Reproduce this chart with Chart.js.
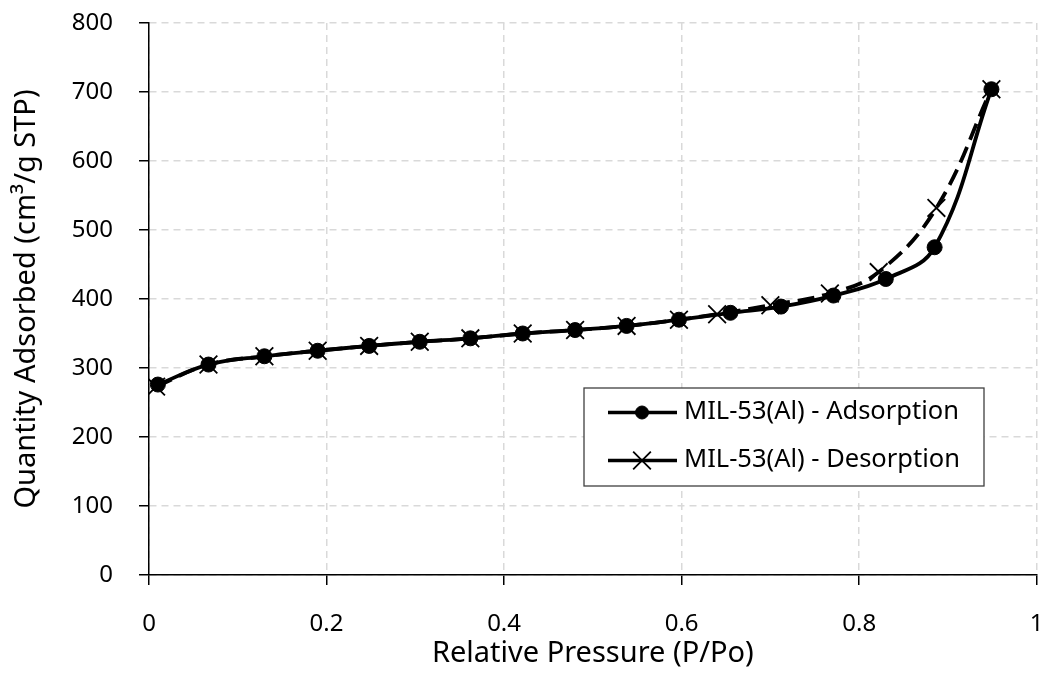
<!DOCTYPE html>
<html>
<head>
<meta charset="utf-8">
<script src="https://cdn.jsdelivr.net/npm/chart.js@4/dist/chart.umd.min.js"></script>
<style>
  html, body { margin: 0; padding: 0; background: #ffffff; }
  #wrap { width: 1051px; height: 674px; position: relative; }
</style>
</head>
<body>
<div id="wrap"><canvas id="isotherm"></canvas></div>
<script>
// N2 isotherm of MIL-53(Al): relative pressure (P/Po) vs quantity adsorbed (cm3/g STP)
const adsorptionPressure = [0.010, 0.067, 0.130, 0.190, 0.248, 0.305, 0.362, 0.421, 0.480, 0.538, 0.597, 0.655, 0.712, 0.771, 0.830, 0.885, 0.949];
const adsorptionQuantity = [276, 305, 317, 325, 332, 338, 343, 350, 355, 361, 370, 380, 389, 405, 429, 475, 704];

const desorptionPressure = [0.008, 0.067, 0.130, 0.190, 0.248, 0.305, 0.362, 0.421, 0.480, 0.538, 0.597, 0.640, 0.700, 0.767, 0.822, 0.887, 0.949];
const desorptionQuantity = [273, 305, 317, 325, 332, 338, 343, 350, 355, 361, 370, 378, 391, 408, 439, 532, 704];

const seriesNames = ['MIL-53(Al) - Adsorption', 'MIL-53(Al) - Desorption'];
const pressureTicks = [0, 0.2, 0.4, 0.6, 0.8, 1];
const quantityTicks = [0, 100, 200, 300, 400, 500, 600, 700, 800];

const FONT = "'Noto Sans', 'DejaVu Sans', sans-serif";

function toPoints(xs, ys) {
  return xs.map((x, i) => ({ x: x, y: ys[i] }));
}

// keep tick-label overflow from shrinking the plot area
function noOverflow(axis) {
  axis.paddingLeft = 0;
  axis.paddingRight = 0;
  axis.paddingTop = 0;
  axis.paddingBottom = 0;
}

// Boxed legend drawn inside the plot area
const boxLegend = {
  id: 'boxLegend',
  afterDraw(chart) {
    const ctx = chart.ctx;
    const left = 584, top = 388, w = 400, h = 98;
    ctx.save();
    ctx.fillStyle = '#ffffff';
    ctx.fillRect(left, top, w, h);
    ctx.strokeStyle = '#404040';
    ctx.lineWidth = 1.3;
    ctx.strokeRect(left, top, w, h);
    chart.data.datasets.forEach((ds, i) => {
      const y = top + 24.5 + i * 48;
      ctx.setLineDash([]);
      ctx.strokeStyle = '#000000';
      ctx.fillStyle = '#000000';
      ctx.lineWidth = 3.5;
      ctx.beginPath();
      ctx.moveTo(left + 24, y);
      ctx.lineTo(left + 93, y);
      ctx.stroke();
      ctx.lineWidth = ds.pointBorderWidth;
      Chart.helpers.drawPoint(ctx, {
        pointStyle: ds.pointStyle,
        rotation: 0,
        radius: ds.legendRadius,
        borderWidth: ds.pointBorderWidth
      }, left + 58, y);
      ctx.fillStyle = '#000000';
      ctx.font = '25.5px ' + FONT;
      ctx.textAlign = 'left';
      ctx.textBaseline = 'middle';
      ctx.fillText(ds.label, left + 100, y - 1);
    });
    ctx.restore();
  }
};

new Chart(document.getElementById('isotherm'), {
  type: 'line',
  data: {
    datasets: [
      {
        label: seriesNames[0],
        data: toPoints(adsorptionPressure, adsorptionQuantity),
        borderColor: '#000000',
        backgroundColor: '#000000',
        borderWidth: 3.8,
        pointStyle: 'circle',
        pointRadius: 7.5,
        pointBorderWidth: 1,
        pointBackgroundColor: '#000000',
        pointBorderColor: '#000000',
        legendRadius: 6.5,
        tension: 0.4,
        fill: false
      },
      {
        label: seriesNames[1],
        data: toPoints(desorptionPressure, desorptionQuantity),
        borderColor: '#000000',
        backgroundColor: '#000000',
        borderWidth: 3.8,
        borderDash: [17, 8],
        pointStyle: 'crossRot',
        pointRadius: 12.5,
        pointBorderWidth: 1.8,
        pointBorderColor: '#000000',
        legendRadius: 12.5,
        tension: 0.4,
        fill: false
      }
    ]
  },
  options: {
    responsive: true,
    maintainAspectRatio: false,
    animation: false,
    devicePixelRatio: 1,
    layout: { padding: { left: 0, right: 10, top: 23, bottom: 0 } },
    plugins: {
      legend: { display: false },
      tooltip: { enabled: false }
    },
    scales: {
      x: {
        type: 'linear',
        min: 0,
        max: 1,
        afterBuildTicks: (axis) => { axis.ticks = pressureTicks.map(v => ({ value: v })); },
        afterFit: (axis) => { axis.height = 99; noOverflow(axis); },
        ticks: {
          color: '#000000',
          font: { family: FONT, size: 24 },
          padding: 25,
          maxRotation: 0,
          callback: (v) => String(v)
        },
        grid: {
          color: '#d9d9d9',
          lineWidth: 1.5,
          tickColor: '#000000',
          tickWidth: 1.5,
          tickLength: 10
        },
        border: { display: true, color: '#000000', width: 1.5, dash: [7, 5] },
        title: {
          display: true,
          text: 'Relative Pressure (P/Po)',
          color: '#000000',
          font: { family: FONT, size: 29 },
          padding: { top: 0, bottom: 3 }
        }
      },
      y: {
        type: 'linear',
        min: 0,
        max: 800,
        afterBuildTicks: (axis) => { axis.ticks = quantityTicks.map(v => ({ value: v })); },
        afterFit: (axis) => { axis.width = 149; noOverflow(axis); },
        ticks: {
          color: '#000000',
          font: { family: FONT, size: 24 },
          padding: 26
        },
        grid: {
          color: '#d9d9d9',
          lineWidth: 1.5,
          tickColor: '#000000',
          tickWidth: 1.5,
          tickLength: 10
        },
        border: { display: true, color: '#000000', width: 1.5, dash: [7, 5] },
        title: {
          display: true,
          text: 'Quantity Adsorbed (cm³/g STP)',
          color: '#000000',
          font: { family: FONT, size: 29 },
          padding: { top: 9, bottom: 0 }
        }
      }
    }
  },
  plugins: [boxLegend]
});
</script>
</body>
</html>
